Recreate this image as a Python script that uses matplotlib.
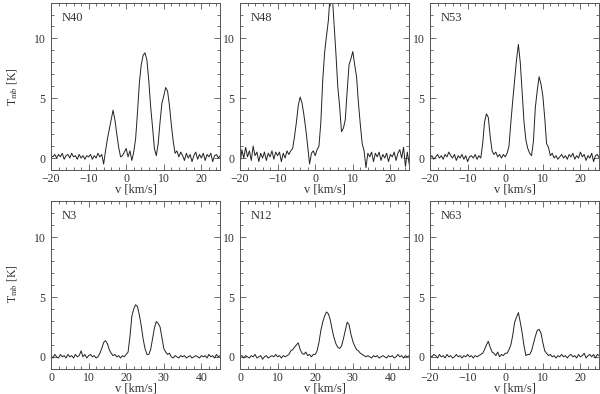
import numpy as np
import matplotlib
matplotlib.use('Agg')
import matplotlib.pyplot as plt
from matplotlib.ticker import MultipleLocator

plt.rcParams['font.family'] = ['Liberation Serif', 'DejaVu Serif']
plt.rcParams['mathtext.fontset'] = 'stix'

# channel grids (km/s), 0.5 km/s steps
v_neg = np.arange(-20, 25.01, 0.5)
v_pos = np.arange(0, 45.01, 0.5)

# spectra (T_mb in K)
t_n40 = [0.2, 0.1, 0.3, 0.0, 0.3, 0.1, 0.4, -0.1, 0.2, 0.3, 0.0, 0.4, 0.1, 0.2,
         -0.1, 0.3, 0.0, 0.2, -0.1, 0.2, 0.1, 0.3, -0.1, 0.2, 0.0, 0.4, 0.1, 0.3,
         -0.5, 0.6, 1.6, 2.4, 3.2, 4.0, 3.2, 2.0, 0.9, 0.1, 0.2, 0.5, 0.8, 0.1,
         0.6, -0.2, 0.5, 1.6, 3.8, 6.3, 7.8, 8.6, 8.8, 8.2, 6.5, 4.3, 2.6, 0.8,
         0.2, 1.2, 3.0, 4.6, 5.2, 5.9, 5.6, 4.4, 2.8, 1.4, 0.4, 0.6, 0.1, 0.5,
         0.2, -0.2, 0.4, 0.0, 0.3, -0.3, 0.2, 0.5, -0.1, 0.3, 0.0, 0.4, -0.2, 0.3,
         0.1, 0.4, -0.3, 0.2, 0.3, 0.0, 0.2]
t_n48 = [-0.6, 0.7, 0.0, 0.9, 0.1, 0.6, -0.2, 1.0, 0.2, 0.5, -0.3, 0.4, 0.0, 0.5,
         -0.2, 0.4, 0.1, 0.6, -0.1, 0.5, 0.2, 0.5, -0.3, 0.4, 0.0, 0.6, 0.3, 0.6,
         0.8, 1.8, 3.0, 4.4, 5.1, 4.6, 3.6, 2.4, 1.0, -0.5, 0.4, 0.6, 0.2, 0.7,
         1.0, 3.0, 6.5, 8.8, 10.2, 11.5, 13.8, 13.8, 11.3, 8.8, 6.0, 4.3, 2.2, 2.5,
         3.2, 5.6, 7.8, 8.3, 8.9, 7.8, 6.8, 4.6, 2.8, 1.2, 0.6, -0.8, 0.4,
         0.1, 0.5, -0.3, 0.4, 0.1, 0.5, -0.2, 0.3, 0.0, 0.4, -0.3, 0.3, 0.1, 0.5,
         -0.2, 0.4, 0.7, 0.0, 0.9, -0.7, 0.5, -0.5]
t_n53 = [0.0, 0.2, -0.1, 0.1, 0.3, 0.0, 0.2, -0.1, 0.3, 0.1, 0.5, 0.2, 0.0, 0.3,
         -0.2, 0.2, 0.0, 0.3, -0.1, 0.2, -0.3, 0.1, 0.2, 0.0, 0.3, -0.1, 0.2, 0.0,
         1.2, 3.0, 3.7, 3.4, 1.8, 0.6, 0.3, 0.5, 0.1, 0.3, 0.0, 0.3, 0.1, 0.4,
         1.0, 3.0, 4.8, 6.5, 8.2, 9.5, 8.0, 5.5, 3.0, 1.5, 0.8, 0.4, 0.2, 1.4,
         4.2, 5.6, 6.8, 6.2, 5.2, 3.4, 1.2, 0.9, 0.2, 0.4,
         0.0, 0.2, -0.1, 0.1, 0.3, 0.0, 0.2, -0.1, 0.3, 0.1, 0.4, -0.1, 0.2, 0.0,
         0.5, 0.1, 0.3, -0.2, 0.2, 0.0, 0.4, -0.3, 0.2, 0.3, 0.0]
t_n3 = [0.1, -0.1, 0.2, 0.0, -0.1, 0.2, 0.0, 0.1, -0.1, 0.2, 0.0, 0.1, -0.1, 0.2,
        0.0, 0.1, 0.5, 0.0, 0.2, -0.1, 0.1, 0.2, 0.0, 0.1, -0.1, 0.0, 0.3, 0.7,
        1.2, 1.35, 1.1, 0.6, 0.3, 0.1, 0.2, 0.0, 0.1, -0.1, 0.1, 0.0, 0.2, 0.4,
        1.7, 3.4, 4.0, 4.35, 4.2, 3.5, 2.6, 1.5, 0.7, 0.2, 0.2, 0.6, 1.5, 2.4,
        2.95, 2.8, 2.5, 1.6, 0.7, 0.4, 0.2, 0.3, 0.0, -0.1, 0.1, 0.0, -0.1, 0.1,
        0.0, 0.1, -0.1, 0.0, 0.1, -0.1, 0.0, 0.1, 0.0, -0.1, 0.1, 0.0, 0.1, -0.1,
        0.2, 0.0, 0.1, -0.1, 0.2, 0.0, 0.1]
t_n12 = [0.0, 0.1, -0.1, 0.1, 0.0, -0.1, 0.1, 0.0, 0.2, -0.1, 0.0, 0.1, -0.2, 0.0,
         0.1, -0.1, 0.0, 0.1, 0.0, 0.2, 0.0, 0.1, -0.1, 0.1, 0.0, 0.1, 0.2, 0.5,
         0.6, 0.8, 1.0, 1.17, 0.6, 0.3, 0.2, 0.4, 0.1, 0.2, 0.0, 0.2, 0.2, 0.5,
         1.2, 2.2, 2.9, 3.4, 3.75, 3.6, 3.1, 2.3, 1.6, 1.1, 0.8, 0.7, 0.9, 1.5,
         2.2, 2.9, 2.7, 1.9, 1.3, 0.9, 0.6, 0.5, 0.3, 0.2, 0.1, 0.0, 0.1, 0.0,
         -0.1, 0.1, 0.0, 0.1, -0.1, 0.0, 0.1, 0.0, -0.1, 0.1, 0.0, 0.1, -0.1, 0.0,
         0.2, 0.0, 0.1, -0.1, 0.1, 0.0, 0.1]
t_n63 = [0.1, 0.0, 0.2, 0.1, -0.1, 0.2, 0.0, 0.1, -0.1, 0.2, 0.0, 0.1, -0.1, 0.0,
         0.2, 0.0, 0.1, -0.1, 0.1, 0.0, 0.2, 0.0, 0.1, -0.1, 0.1, 0.0, 0.1, 0.2,
         0.3, 0.6, 1.0, 1.3, 0.8, 0.4, 0.3, 0.1, 0.4, 0.0, 0.2, 0.1, 0.3, 0.3,
         0.6, 1.0, 1.8, 2.9, 3.3, 3.7, 2.9, 2.0, 0.9, 0.1, 0.2, 0.2, 0.5, 1.1,
         1.7, 2.2, 2.3, 2.0, 1.2, 0.5, 0.3, 0.1, 0.2, 0.0, 0.1, -0.1, 0.1, 0.0,
         0.2, 0.0, 0.1, -0.1, 0.1, 0.2, 0.0, 0.1, -0.1, 0.2, 0.0, 0.1, 0.3, -0.1,
         0.1, 0.2, 0.0, 0.2, -0.1, 0.2, 0.1]

names = ['N40', 'N48', 'N53', 'N3', 'N12', 'N63']
spectra = [t_n40, t_n48, t_n53, t_n3, t_n12, t_n63]
grids = [v_neg, v_neg, v_neg, v_pos, v_pos, v_neg]

fig = plt.figure(figsize=(6, 3.94), dpi=100)
lefts = [0.085, 0.4, 0.7167]
bottoms = [0.5685, 0.064]
frame = '#555555'
txt = '#333333'

for i in range(6):
    row, col = divmod(i, 3)
    ax = fig.add_axes([lefts[col], bottoms[row], 0.282, 0.425])
    v = grids[i]
    ax.plot(v, spectra[i], color='#222222', lw=0.7)
    ax.set_xlim(v[0], v[-1])
    ax.set_ylim(-1, 13)
    ax.xaxis.set_major_locator(MultipleLocator(10))
    ax.xaxis.set_minor_locator(MultipleLocator(2))
    ax.yaxis.set_major_locator(MultipleLocator(5))
    ax.yaxis.set_minor_locator(MultipleLocator(1))
    ax.tick_params(which='both', direction='in', top=True, right=True,
                   colors=frame, labelsize=8.5, labelcolor=txt)
    ax.tick_params(axis='x', pad=2)
    ax.tick_params(axis='y', pad=4)
    ax.tick_params(which='major', length=4.5, width=0.6)
    ax.tick_params(which='minor', length=2.2, width=0.6)
    for s in ax.spines.values():
        s.set_color(frame)
        s.set_linewidth(0.7)
    ax.set_xlabel('v [km/s]', fontsize=9, color=txt, labelpad=-1)
    ax.text(0.065, 0.91, names[i], transform=ax.transAxes, fontsize=9,
            color=txt, ha='left', va='center')

fig.text(0.02, 0.78, r'T$_{\rm mb}$ [K]', rotation=90, fontsize=8.5,
         color=txt, ha='center', va='center')
fig.text(0.02, 0.28, r'T$_{\rm mb}$ [K]', rotation=90, fontsize=8.5,
         color=txt, ha='center', va='center')

fig.savefig('out.png', dpi=100)
